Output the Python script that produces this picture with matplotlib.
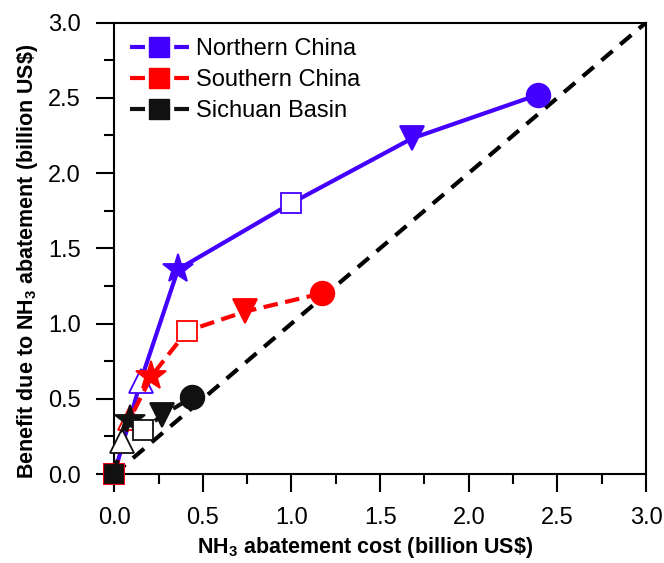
import matplotlib.pyplot as plt
from matplotlib.lines import Line2D
from matplotlib.ticker import MultipleLocator

plt.rcParams['font.family'] = ['Liberation Sans', 'DejaVu Sans']
plt.rcParams['mathtext.fontset'] = 'custom'
plt.rcParams['mathtext.rm'] = 'Liberation Sans'
plt.rcParams['mathtext.bf'] = 'Liberation Sans:bold'

# dados (custo, beneficio) em bilhoes de US$
norteCusto = [0.0, 0.15, 0.36, 1.00, 1.68, 2.39]
norteBeneficio = [0.0, 0.62, 1.36, 1.80, 2.23, 2.52]

sulCusto = [0.0, 0.09, 0.21, 0.41, 0.74, 1.17]
sulBeneficio = [0.0, 0.37, 0.65, 0.95, 1.08, 1.20]

sichuanCusto = [0.0, 0.045, 0.09, 0.16, 0.27, 0.44]
sichuanBeneficio = [0.0, 0.22, 0.36, 0.29, 0.39, 0.51]

regioes = ['Northern China', 'Southern China', 'Sichuan Basin']
cores = ['#4400ff', '#ff0000', '#111111']
estilos = ['-', (0, (3.5, 1.8)), (0, (3.5, 1.8))]

# marcador de cada cenario: (simbolo, preenchido?)
marcadores = [('s', True), ('^', False), ('*', True), ('s', False), ('v', True), ('o', True)]
tamanhos = [15, 17, 22, 15, 17, 17]


def PlotaRegiao(ax, custo, beneficio, cor, estilo, z, tamanhoOrigem):
    ax.plot(custo, beneficio, color=cor, linestyle=estilo, lw=3, zorder=z, clip_on=False)
    for i in range(len(custo)):
        simbolo, cheio = marcadores[i]
        tam = tamanhos[i]
        if i == 0:
            tam = tamanhoOrigem
        ax.plot(custo[i], beneficio[i], marker=simbolo, markersize=tam,
                markerfacecolor=cor if cheio else 'white', markeredgecolor=cor,
                markeredgewidth=1.3, linestyle='none', zorder=z + 0.5, clip_on=False)


fig = plt.figure(figsize=(6.64, 5.63), dpi=100)
ax = fig.add_axes([0.172, 0.158, 0.801, 0.802])

# linha 1:1
ax.plot([0, 3], [0, 3], color='black', lw=3, linestyle=(0, (3.5, 2.4)), zorder=1)

PlotaRegiao(ax, norteCusto, norteBeneficio, cores[0], estilos[0], 2, 15)
PlotaRegiao(ax, sulCusto, sulBeneficio, cores[1], estilos[1], 3, 15)
PlotaRegiao(ax, sichuanCusto, sichuanBeneficio, cores[2], estilos[2], 4, 13.5)

ax.set_xlim(0, 3)
ax.set_ylim(0, 3)
ax.xaxis.set_major_locator(MultipleLocator(0.5))
ax.xaxis.set_minor_locator(MultipleLocator(0.25))
ax.yaxis.set_major_locator(MultipleLocator(0.5))
ax.yaxis.set_minor_locator(MultipleLocator(0.25))
ax.tick_params(which='major', direction='out', length=13, width=1.5, labelsize=17, pad=11)
ax.tick_params(which='minor', direction='out', length=7, width=1.5)
for s in ax.spines.values():
    s.set_linewidth(1.5)

ax.set_xlabel(r'NH$_\mathbf{3}$ abatement cost (billion US\$)', fontsize=15.5, fontweight='bold',
              labelpad=4, x=0.472)
ax.set_ylabel(r'Benefit due to NH$_\mathbf{3}$ abatement (billion US\$)', fontsize=15.5, fontweight='bold',
              labelpad=6, y=0.47)

# legenda no estilo Origin: traco - marcador - traco
handles = []
for i in range(3):
    handles.append(Line2D([], [], color=cores[i], lw=3, linestyle=(0, (3.6, 7.0)),
                          marker='s', markersize=14,
                          markerfacecolor=cores[i], markeredgecolor=cores[i]))
ax.legend(handles, regioes, loc='upper left', frameon=False, fontsize=17,
          handlelength=2.5, labelspacing=0.38, borderaxespad=0.25, handletextpad=0.3)

fig.savefig('out.png', dpi=100)
